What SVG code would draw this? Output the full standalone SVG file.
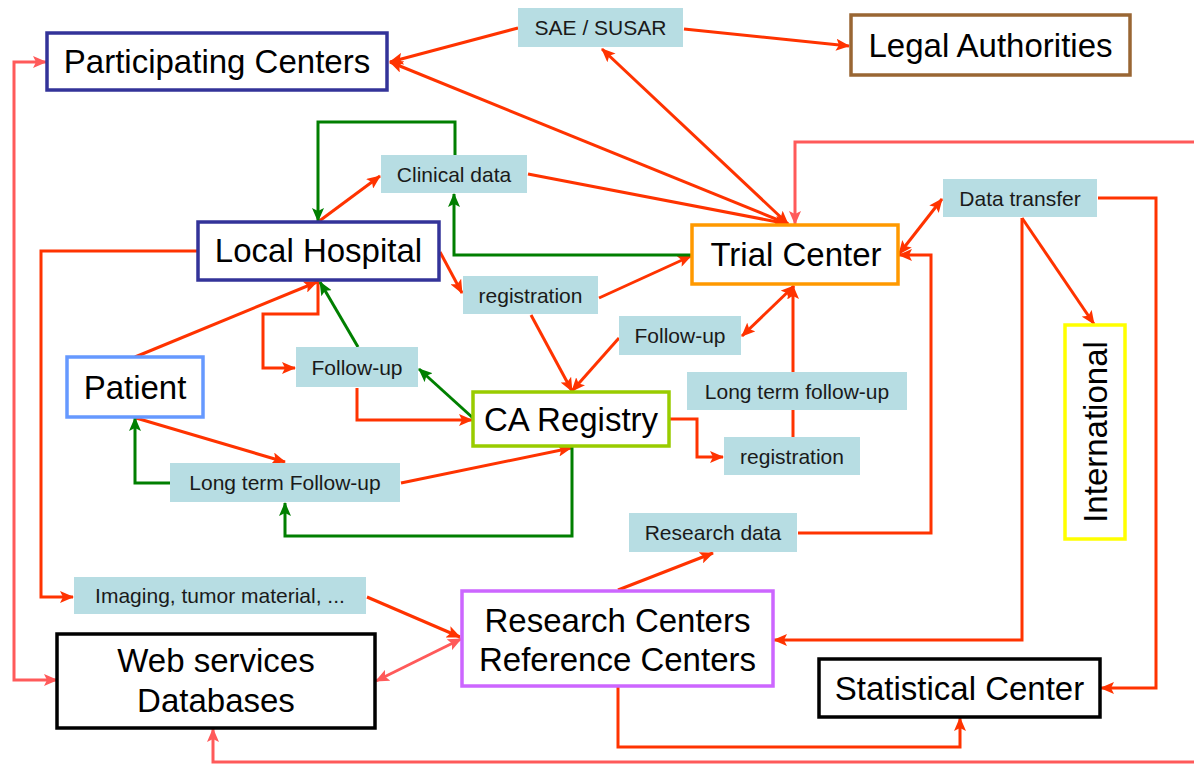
<svg xmlns="http://www.w3.org/2000/svg" width="1194" height="765" viewBox="0 0 1194 765">
  <style>
    .node rect { fill: #ffffff; stroke-width: 3.5; }
    .node text { font-family: "Liberation Sans", Arial, sans-serif; font-size: 33px; fill: #000; text-anchor: middle; }
    .lbl rect { fill: #b7dde3; stroke: none; }
    .lbl text { font-family: "Liberation Sans", Arial, sans-serif; font-size: 21px; fill: #1a1a1a; text-anchor: middle; }
    .c path { fill: none; stroke-width: 3; stroke-linejoin: miter; }
    .r { stroke: #ff3300; }
    .lr { stroke: #ff5a5a; }
    .g { stroke: #007f00; }
  </style>
  <defs>
    <marker id="ar" viewBox="0 0 14 12" refX="13" refY="6" markerWidth="14" markerHeight="12" markerUnits="userSpaceOnUse" orient="auto-start-reverse">
      <path d="M0,0 L14,6 L0,12 L3,6 z" fill="#ff3300"/>
    </marker>
    <marker id="al" viewBox="0 0 14 12" refX="13" refY="6" markerWidth="14" markerHeight="12" markerUnits="userSpaceOnUse" orient="auto-start-reverse">
      <path d="M0,0 L14,6 L0,12 L3,6 z" fill="#ff5a5a"/>
    </marker>
    <marker id="ag" viewBox="0 0 14 12" refX="13" refY="6" markerWidth="14" markerHeight="12" markerUnits="userSpaceOnUse" orient="auto-start-reverse">
      <path d="M0,0 L14,6 L0,12 L3,6 z" fill="#007f00"/>
    </marker>
  </defs>

  <rect width="1194" height="765" fill="#ffffff"/>

  <!-- connectors -->
  <g id="connectors" class="c">
    <!-- red data flows -->
    <path class="r" d="M518,28 L390,62" marker-end="url(#ar)"/>
    <path class="r" d="M788,224 L390,62" marker-start="url(#ar)" marker-end="url(#ar)"/>
    <path class="r" d="M684,29 L849,46" marker-end="url(#ar)"/>
    <path class="r" d="M788,224 L602,49" marker-start="url(#ar)" marker-end="url(#ar)"/>
    <path class="r" d="M528,174 L788,224" stroke-width="5" marker-end="url(#ar)"/>
    <path class="r" d="M318,222 L380,176" marker-end="url(#ar)"/>
    <path class="r" d="M440,252 L462,293" stroke-width="4.5" marker-end="url(#ar)"/>
    <path class="r" d="M599,298 L691,256" marker-end="url(#ar)"/>
    <path class="r" d="M531,315 L572,391" marker-end="url(#ar)"/>
    <path class="r" d="M619,338 L572,391" marker-end="url(#ar)"/>
    <path class="r" d="M794,286 L742,336" marker-start="url(#ar)" marker-end="url(#ar)"/>
    <path class="r" d="M793,437 L793,286" marker-end="url(#ar)"/>
    <path class="r" d="M670,419 H697 V457 H723" marker-end="url(#ar)"/>
    <path class="r" d="M318,281 V314 H263 V368 H295" marker-end="url(#ar)"/>
    <path class="r" d="M357,388 V420 H472" marker-end="url(#ar)"/>
    <path class="r" d="M135,357 L317,282" marker-end="url(#ar)"/>
    <path class="r" d="M136,418 L285,462" marker-end="url(#ar)"/>
    <path class="r" d="M401,483 L571,448" marker-end="url(#ar)"/>
    <path class="r" d="M197,251 H41 V597 H73" marker-end="url(#ar)"/>
    <path class="r" d="M367,597 L460,637" marker-end="url(#ar)"/>
    <path class="r" d="M618,590 L713,553" marker-end="url(#ar)"/>
    <path class="r" d="M798,533 H931 V255 H899" marker-end="url(#ar)"/>
    <path class="r" d="M899,254 L942,199" marker-start="url(#ar)" marker-end="url(#ar)"/>
    <path class="r" d="M1022,218 L1094,324" marker-end="url(#ar)"/>
    <path class="r" d="M1022,218 V640 H774" marker-end="url(#ar)"/>
    <path class="r" d="M1098,198 H1156 V688 H1101" marker-end="url(#ar)"/>
    <path class="r" d="M618,687 V747 H960 V718" marker-end="url(#ar)"/>
    <!-- light red links -->
    <path class="lr" d="M1194,142 H795 V224" marker-end="url(#al)"/>
    <path class="lr" d="M1194,762 H213 V729" marker-end="url(#al)"/>
    <path class="lr" d="M57,680 H14 V62 H46" marker-start="url(#al)" marker-end="url(#al)"/>
    <path class="lr" d="M376,681 L461,639" marker-start="url(#al)" marker-end="url(#al)"/>
    <!-- green feedback loops -->
    <path class="g" d="M455,155 V122 H318 V221" marker-end="url(#ag)"/>
    <path class="g" d="M692,255 H454 V194" marker-end="url(#ag)"/>
    <path class="g" d="M473,418 L419,369" marker-end="url(#ag)"/>
    <path class="g" d="M358,347 L320,282" marker-end="url(#ag)"/>
    <path class="g" d="M572,447 V536 H285 V503" marker-end="url(#ag)"/>
    <path class="g" d="M170,483 H135 V418" marker-end="url(#ag)"/>
  </g>

  <!-- main nodes -->
  <g id="participating-centers" class="node">
    <rect x="47" y="33" width="340" height="57" stroke="#333399"/>
    <text x="217" y="73">Participating Centers</text>
  </g>
  <g id="legal-authorities" class="node">
    <rect x="851" y="15" width="279" height="60" stroke="#996633"/>
    <text x="990.5" y="57">Legal Authorities</text>
  </g>
  <g id="local-hospital" class="node">
    <rect x="198" y="222" width="241" height="58" stroke="#333399"/>
    <text x="318.5" y="262">Local Hospital</text>
  </g>
  <g id="trial-center" class="node">
    <rect x="692" y="225" width="206" height="59" stroke="#ff9900"/>
    <text x="796" y="266">Trial Center</text>
  </g>
  <g id="ca-registry" class="node">
    <rect x="473" y="392" width="196" height="54" stroke="#99cc00"/>
    <text x="571" y="431">CA Registry</text>
  </g>
  <g id="patient" class="node">
    <rect x="67" y="357" width="136" height="60" stroke="#6699ff"/>
    <text x="135" y="399">Patient</text>
  </g>
  <g id="international" class="node">
    <rect x="1065" y="325" width="60" height="214" stroke="#ffff00"/>
    <text transform="translate(1107,432) rotate(-90)" x="0" y="0">International</text>
  </g>
  <g id="research-centers" class="node">
    <rect x="462" y="591" width="311" height="95" stroke="#cc66ff"/>
    <text x="617.5" y="632">Research Centers</text>
    <text x="617.5" y="671">Reference Centers</text>
  </g>
  <g id="web-services" class="node">
    <rect x="57" y="634" width="318" height="94" stroke="#000000" stroke-width="4"/>
    <text x="216" y="672">Web services</text>
    <text x="216" y="712">Databases</text>
  </g>
  <g id="statistical-center" class="node">
    <rect x="819" y="659" width="281" height="58" stroke="#000000" stroke-width="4"/>
    <text x="959.5" y="700">Statistical Center</text>
  </g>

  <!-- flow labels -->
  <g id="sae-susar" class="lbl">
    <rect x="518" y="8" width="165" height="39"/>
    <text x="600.5" y="35">SAE / SUSAR</text>
  </g>
  <g id="clinical-data" class="lbl">
    <rect x="381" y="155" width="146" height="38"/>
    <text x="454" y="181.5">Clinical data</text>
  </g>
  <g id="data-transfer" class="lbl">
    <rect x="943" y="179" width="154" height="38"/>
    <text x="1020" y="205.5">Data transfer</text>
  </g>
  <g id="registration-local" class="lbl">
    <rect x="463" y="276" width="135" height="38"/>
    <text x="530.5" y="302.5">registration</text>
  </g>
  <g id="follow-up-trial" class="lbl">
    <rect x="619" y="316" width="122" height="39"/>
    <text x="680" y="343">Follow-up</text>
  </g>
  <g id="long-term-follow-up-trial" class="lbl">
    <rect x="687" y="372" width="220" height="38"/>
    <text x="797" y="398.5">Long term follow-up</text>
  </g>
  <g id="registration-registry" class="lbl">
    <rect x="724" y="437" width="136" height="38"/>
    <text x="792" y="463.5">registration</text>
  </g>
  <g id="follow-up-local" class="lbl">
    <rect x="296" y="347" width="122" height="40"/>
    <text x="357" y="374.5">Follow-up</text>
  </g>
  <g id="long-term-follow-up-patient" class="lbl">
    <rect x="170" y="463" width="230" height="39"/>
    <text x="285" y="490">Long term Follow-up</text>
  </g>
  <g id="research-data" class="lbl">
    <rect x="629" y="513" width="168" height="39"/>
    <text x="713" y="540">Research data</text>
  </g>
  <g id="imaging" class="lbl">
    <rect x="74" y="577" width="292" height="37"/>
    <text x="220" y="603">Imaging, tumor material, ...</text>
  </g>
</svg>
